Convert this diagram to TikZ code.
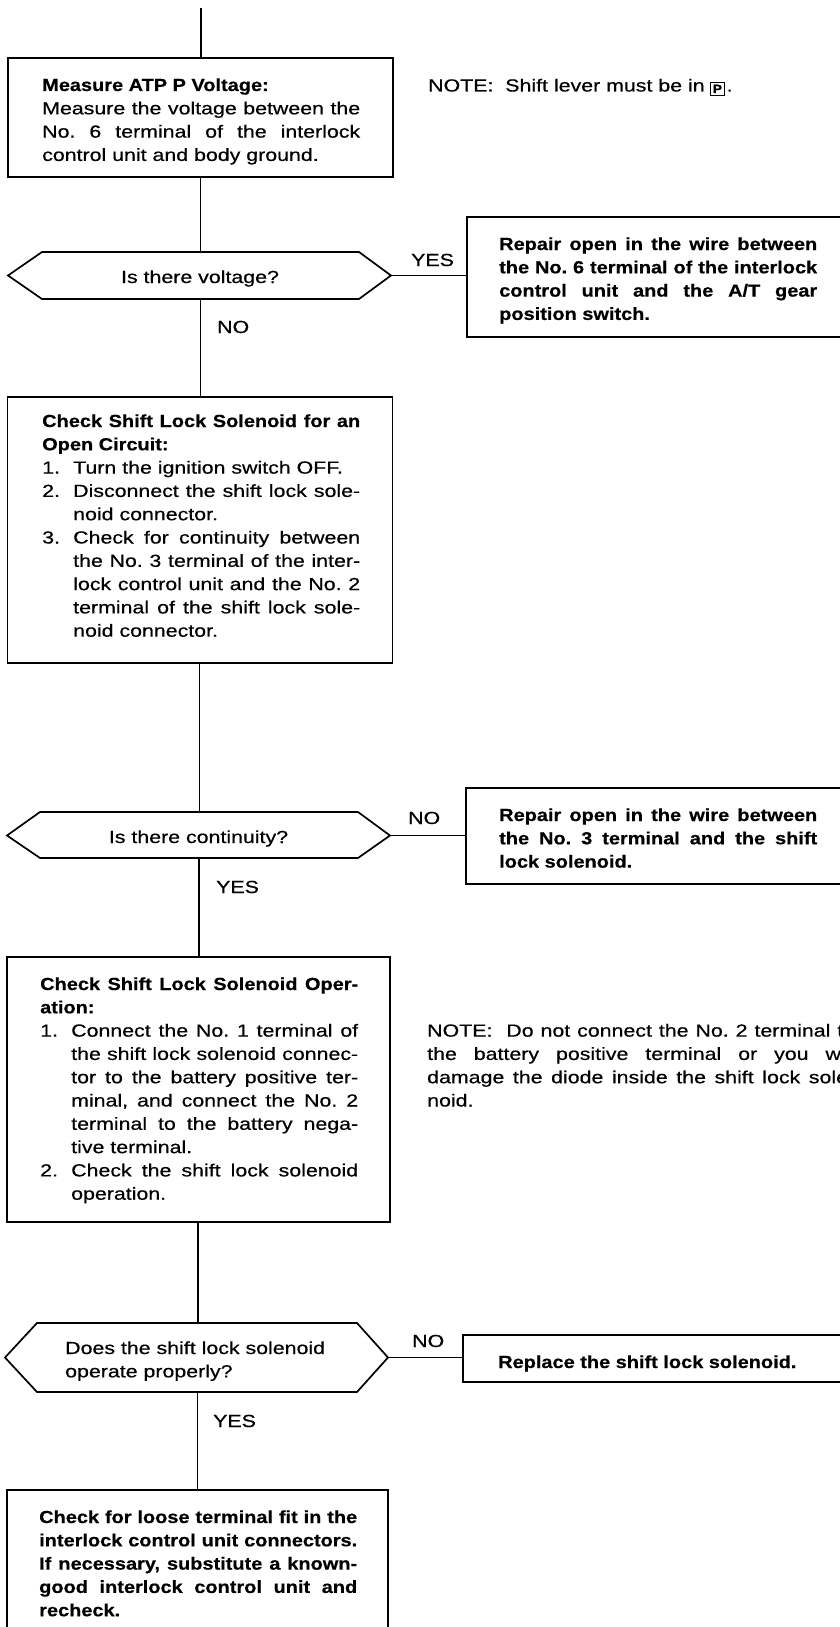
\documentclass[tikz,border=0pt]{standalone}
\usepackage{fontspec}
\setmainfont{Liberation Sans}[FakeStretch=1.22,FakeBold=0.5,BoldFeatures={FakeStretch=1.14}]
\frenchspacing
\newcommand\fcjsp{\spaceskip=\fontdimen2\font plus 1fil minus \fontdimen4\font\relax}
\newcommand\fcJ[1]{\hbox to\hsize{\fcjsp #1}}
\newcommand\fcL[1]{\hbox{#1}}
\newcommand\fcNJ[2]{\hbox to\hsize{\hbox to 31pt{#1\hfil}\fcjsp #2}}
\newcommand\fcNL[2]{\hbox{\hbox to 31pt{#1\hfil}#2}}
\newcommand\fcIJ[1]{\hbox to\hsize{\hskip 31pt\fcjsp #1}}
\newcommand\fcIL[1]{\hbox{\hskip 31pt #1}}
\newcommand\fcblk[2][318pt]{\vtop{\hsize=#1\baselineskip=23.3pt\lineskiplimit=-100pt\lineskip=0pt #2}}
\begin{document}
\begin{tikzpicture}[x=1pt,y=-1pt,
  box/.style={draw,line width=1.7pt,rectangle,inner sep=0pt,minimum width=385pt},
  txt/.style={inner sep=0pt,anchor=base west,font=\fontsize{17.5}{23.3}\selectfont},
  conn/.style={line width=1.4pt},
  hex/.style={draw,line width=1.7pt,line join=miter}]
\useasboundingbox (0,0) rectangle (840,1627);
\clip (0,0) rectangle (840,1627);
\fill[white] (0,0) rectangle (840,1627);

% boxes
\node[box,minimum height=119pt] (b1) at (200.5,117.5) {};
\node[box,minimum height=120pt] (b2) at (659.5,277) {};
\node[box,minimum height=266pt] (b3) at (200,530) {};
\node[box,minimum height=96pt,minimum width=386pt] (b4) at (659,836) {};
\node[box,minimum height=265pt,minimum width=383pt] (b5) at (198.5,1089.5) {};
\node[box,minimum height=47pt,minimum width=388pt] (b6) at (657,1358.5) {};
\node[box,minimum height=152pt,minimum width=381pt] (b7) at (197.5,1566) {};

% hexagons
\draw[hex] (8,275.5) -- (42,252) -- (359,252) -- (391,275.5) -- (359,299) -- (42,299) -- cycle;
\coordinate (h1n) at (200.5,252); \coordinate (h1s) at (200.5,299); \coordinate (h1e) at (391,275.5);
\draw[hex] (7,835.5) -- (40,812) -- (358,812) -- (390,835.5) -- (358,858) -- (40,858) -- cycle;
\coordinate (h2n) at (199.5,812); \coordinate (h2s) at (199,858); \coordinate (h2e) at (390,835.5);
\draw[hex] (5,1357.5) -- (37,1323) -- (357,1323) -- (388,1357.5) -- (357,1392) -- (37,1392) -- cycle;
\coordinate (h3n) at (198,1323); \coordinate (h3s) at (197.5,1392); \coordinate (h3e) at (388,1357.5);

% connectors
\coordinate (start) at (201,8);
\draw[conn] (start) -- (b1.north -| start);
\draw[conn] (b1.south -| h1n) -- (h1n);
\draw[conn] (h1e) -- (h1e -| b2.west);
\draw[conn] (h1s) -- (b3.north -| h1s);
\draw[conn] (b3.south -| h2n) -- (h2n);
\draw[conn] (h2e) -- (h2e -| b4.west);
\draw[conn] (h2s) -- (b5.north -| h2s);
\draw[conn] (b5.south -| h3n) -- (h3n);
\draw[conn] (h3e) -- (h3e -| b6.west);
\draw[conn] (h3s) -- (b7.north -| h3s);

% texts
\node[txt] (t1) at (42,91) {\fcblk{%
\fcL{\bfseries Measure ATP P Voltage:}
\fcJ{Measure the voltage between the}
\fcJ{No. 6 terminal of the interlock}
\fcL{control unit and body ground.}}};
\node[txt] (n1) at (428,91.5) {NOTE:\ \ Shift lever must be in\kern5pt{\setlength\fboxsep{2.2pt}\setlength\fboxrule{1pt}\raisebox{-1.5pt}{\fbox{\fontsize{12}{12}\selectfont\bfseries P}}}\kern1.5pt.};
\node[txt,anchor=base] (q1) at (200,283) {Is there voltage?};
\node[txt] (y1) at (411,266) {YES};
\node[txt] (t2) at (499,250) {\bfseries\fcblk{%
\fcJ{Repair open in the wire between}
\fcJ{the No. 6 terminal of the interlock}
\fcJ{control unit and the A/T gear}
\fcL{position switch.}}};
\node[txt] (no1) at (217,333) {NO};
\node[txt] (t3) at (42,427) {\fcblk{%
\fcJ{\bfseries Check Shift Lock Solenoid for an}
\fcL{\bfseries Open Circuit:}
\fcNL{1.}{Turn the ignition switch OFF.}
\fcNJ{2.}{Disconnect the shift lock sole-}
\fcIL{noid connector.}
\fcNJ{3.}{Check for continuity between}
\fcIJ{the No. 3 terminal of the inter-}
\fcIJ{lock control unit and the No. 2}
\fcIJ{terminal of the shift lock sole-}
\fcIL{noid connector.}}};
\node[txt,anchor=base] (q2) at (198.5,843) {Is there continuity?};
\node[txt] (no2) at (408,824) {NO};
\node[txt] (t4) at (499,821) {\bfseries\fcblk{%
\fcJ{Repair open in the wire between}
\fcJ{the No. 3 terminal and the shift}
\fcL{lock solenoid.}}};
\node[txt] (y2) at (216,893) {YES};
\node[txt] (t5) at (40,990) {\fcblk{%
\fcJ{\bfseries Check Shift Lock Solenoid Oper-}
\fcL{\bfseries ation:}
\fcNJ{1.}{Connect the No. 1 terminal of}
\fcIJ{the shift lock solenoid connec-}
\fcIJ{tor to the battery positive ter-}
\fcIJ{minal, and connect the No. 2}
\fcIJ{terminal to the battery nega-}
\fcIL{tive terminal.}
\fcNJ{2.}{Check the shift lock solenoid}
\fcIL{operation.}}};
\node[txt] (n2) at (427,1036.6) {\fcblk[428pt]{%
\fcJ{NOTE:\ \ Do not connect the No. 2 terminal to}
\fcJ{the battery positive terminal or you will}
\fcJ{damage the diode inside the shift lock sole-}
\fcL{noid.}}};
\node[txt] (q3) at (65,1354) {\fcblk{%
\fcL{Does the shift lock solenoid}
\fcL{operate properly?}}};
\node[txt] (no3) at (412,1347) {NO};
\node[txt] (t6) at (498,1368) {\bfseries Replace the shift lock solenoid.};
\node[txt] (y3) at (213,1427) {YES};
\node[txt] (t7) at (39,1523) {\bfseries\fcblk{%
\fcJ{Check for loose terminal fit in the}
\fcJ{interlock control unit connectors.}
\fcJ{If necessary, substitute a known-}
\fcJ{good interlock control unit and}
\fcL{recheck.}}};
\end{tikzpicture}
\end{document}
